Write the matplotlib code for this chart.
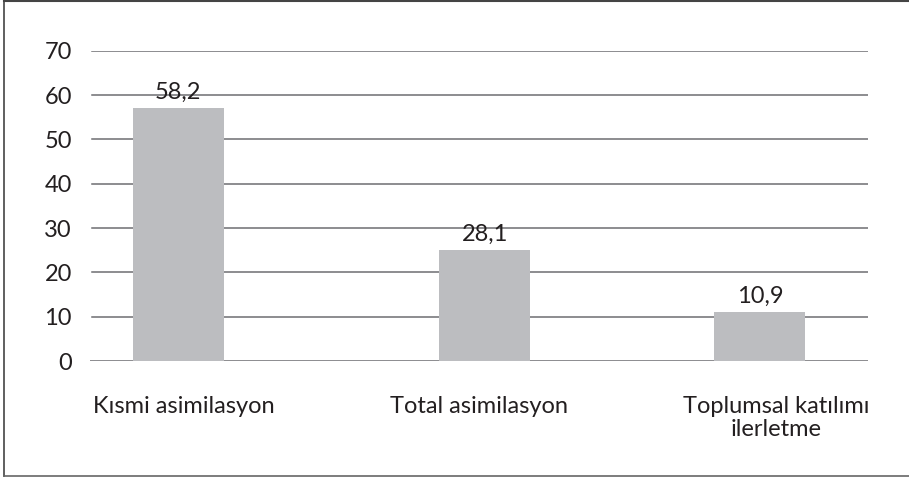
import matplotlib
matplotlib.use("Agg")
import matplotlib.pyplot as plt
from matplotlib.lines import Line2D
import numpy as np

categories = ["Kısmi asimilasyon", "Total asimilasyon", "Toplumsal katılımı\nilerletme"]
bar_heights = [57.0, 25.0, 11.0]
value_labels = ["58,2", "28,1", "10,9"]
y_ticks = [0, 10, 20, 30, 40, 50, 60, 70]

# layout constants (offsets within category slots)
bar_offsets = [-0.16, 0.022, 0.083]
label_offsets = [-0.14, 0.0, 0.147]

plt.rcParams['font.family'] = ['Lato', 'DejaVu Sans']
text_color = "#231F20"
grid_color = "#6D6E71"
bar_color = "#BCBDC0"
fs = 17

fig = plt.figure(figsize=(9.09, 4.78), dpi=100)
ax = fig.add_axes([90/909, 1-361/478, 778/909, (361-50.7)/478])

slots = np.arange(len(categories))
xb = slots + np.array(bar_offsets)
ax.set_xlim(-0.5, len(categories) - 0.5)
ax.set_ylim(0, 70)
ax.set_yticks(y_ticks)
ax.set_yticklabels([str(t) for t in y_ticks])
for t in y_ticks:
    ax.axhline(t, color=grid_color, lw=1.1, zorder=1,
               xmin=(0 if t == 0 else 2/778), xmax=1)

bars = ax.bar(xb, bar_heights, width=0.35, color=bar_color, zorder=2)
for x, h, lab in zip(xb, bar_heights, value_labels):
    ax.annotate(lab, (x, h), xytext=(0, 4), textcoords="offset points",
                ha="center", va="bottom", fontsize=fs, color=text_color)

ax.set_xticks(slots + np.array(label_offsets))
ax.set_xticklabels(categories, fontsize=fs, color=text_color, linespacing=1.15)
for s in ax.spines.values():
    s.set_visible(False)
ax.tick_params(axis="x", length=0, pad=25)
ax.tick_params(axis="y", length=0, pad=13, labelsize=fs, labelcolor=text_color)

# outer frame (left, top, bottom)
fig.add_artist(Line2D([4/909, 4/909], [1-476/478, 1-1/478], transform=fig.transFigure, color="#444444", lw=1.2))
fig.add_artist(Line2D([4/909, 1], [1-1/478, 1-1/478], transform=fig.transFigure, color="#444444", lw=1.5))
fig.add_artist(Line2D([4/909, 1], [1-476/478, 1-476/478], transform=fig.transFigure, color="#666666", lw=1.2))

fig.savefig("out.png", dpi=100)
